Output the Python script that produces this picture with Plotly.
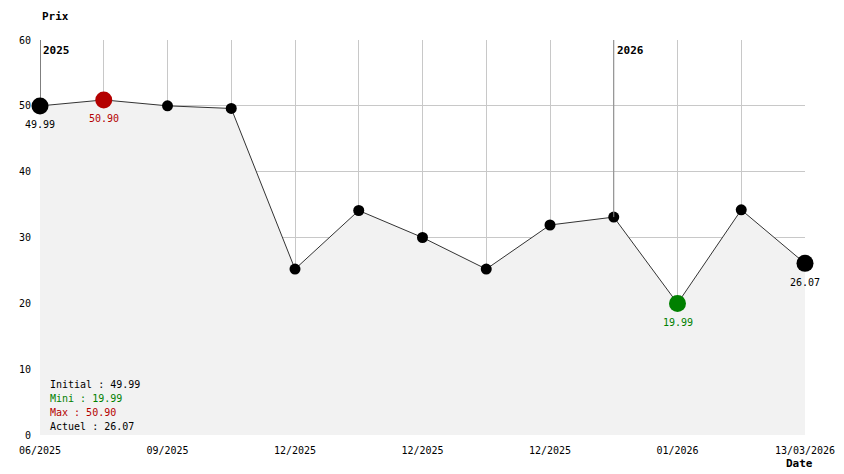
import plotly.graph_objects as go

# price history, one point per grid step
prices = [49.99, 50.90, 50.0, 49.6, 25.2, 34.1, 30.0, 25.2, 31.9, 33.1, 19.99, 34.2, 26.07]
tick_labels = ["06/2025", "", "09/2025", "", "12/2025", "", "12/2025", "", "12/2025", "", "01/2026", "", "13/03/2026"]
year_idx = [0, 9]
year_names = ["2025", "2026"]
year_colors = ["#000000", "#888888"]

MONO = "DejaVu Sans Mono"
RED = "#b40000"
GREEN = "#008000"

xs = list(range(len(prices)))
i_min = prices.index(min(prices))
i_max = prices.index(max(prices))
i_last = len(prices) - 1

colors, sizes, labels, label_colors = [], [], [], []
for i, p in enumerate(prices):
    if i == i_max:
        colors.append(RED); sizes.append(17); labels.append(f"{p:.2f}"); label_colors.append(RED)
    elif i == i_min:
        colors.append(GREEN); sizes.append(17); labels.append(f"{p:.2f}"); label_colors.append(GREEN)
    elif i in (0, i_last):
        colors.append("black"); sizes.append(17); labels.append(f"{p:.2f}"); label_colors.append("black")
    else:
        colors.append("black"); sizes.append(11); labels.append(""); label_colors.append("black")

fig = go.Figure()
fig.add_trace(go.Scatter(
    x=xs, y=prices, mode="lines", fill="tozeroy", fillcolor="#f2f2f2",
    line=dict(color="#333333", width=1), hoverinfo="skip",
))

for xi, name, c in zip(year_idx, year_names, year_colors):
    fig.add_shape(type="line", x0=xi, x1=xi, y0=prices[xi], y1=60,
                  line=dict(color=c, width=1), layer="above")
    fig.add_annotation(x=xi, y=60, text=f"<b>{name}</b>", showarrow=False,
                       xanchor="left", yanchor="top", xshift=1, yshift=-2,
                       font=dict(family=MONO, size=11, color="black"))

fig.add_trace(go.Scatter(
    x=xs, y=prices, mode="markers",
    marker=dict(color=colors, size=sizes, opacity=1, line=dict(width=0)),
    cliponaxis=False, hoverinfo="skip",
))

# value labels under the highlighted points
for i, (lab, c) in enumerate(zip(labels, label_colors)):
    if lab:
        fig.add_annotation(x=xs[i], y=prices[i], text=lab, showarrow=False,
                           xanchor="center", yanchor="middle", yshift=-19,
                           font=dict(family=MONO, size=10, color=c))

stats = [
    (f"Initial : {prices[0]:.2f}", "black"),
    (f"Mini : {prices[i_min]:.2f}", GREEN),
    (f"Max : {prices[i_max]:.2f}", RED),
    (f"Actuel : {prices[i_last]:.2f}", "black"),
]
for k, (txt, c) in enumerate(stats):
    fig.add_annotation(xref="paper", yref="paper", x=0.011, y=0.127 - k * 0.0355,
                       text=txt, showarrow=False, xanchor="left", yanchor="middle",
                       font=dict(family=MONO, size=10, color=c))

fig.add_annotation(xref="paper", yref="paper", x=0, y=1.081, text="<b>Prix</b>",
                   showarrow=False, xanchor="left", yanchor="top",
                   font=dict(family=MONO, size=11, color="black"))
fig.add_annotation(xref="paper", yref="paper", x=0.972, y=-0.071, text="<b>Date</b>",
                   showarrow=False, xanchor="left", yanchor="middle",
                   font=dict(family=MONO, size=11, color="black"))

# page body adds an 8px offset, so the figure is sized a bit smaller
fig.update_layout(
    width=836, height=466,
    margin=dict(l=32, r=39, t=32, b=39),
    paper_bgcolor="white", plot_bgcolor="white",
    showlegend=False,
    font=dict(family=MONO, size=10, color="black"),
    xaxis=dict(range=[0, 12], tickvals=xs, ticktext=tick_labels, showgrid=True,
               gridcolor="#c8c8c8", zeroline=False, showline=False, ticks="",
               tickangle=0, fixedrange=True, automargin=False, ticklabelstandoff=8),
    yaxis=dict(range=[0, 60], dtick=10, showgrid=True, gridcolor="#c8c8c8",
               zeroline=False, showline=False, ticks="", fixedrange=True,
               automargin=False, ticklabelstandoff=8),
)

fig.write_html("out.html")
